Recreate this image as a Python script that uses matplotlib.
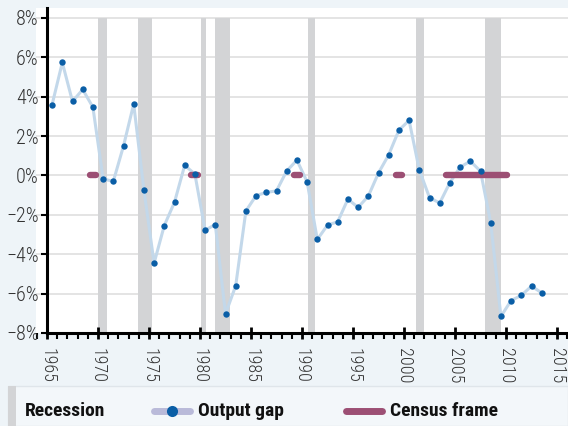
import matplotlib
matplotlib.use("Agg")
import matplotlib.pyplot as plt
from matplotlib.patches import Rectangle
from matplotlib.lines import Line2D
from matplotlib.ticker import MultipleLocator, FuncFormatter

plt.rcParams['font.family'] = ['Roboto Condensed', 'DejaVu Sans']
plt.rcParams['font.stretch'] = 'condensed'

# ---- data ----
years = list(range(1965, 2014))
output_gap = [3.6, 5.74, 3.76, 4.37, 3.47, -0.17, -0.3, 1.5, 3.63, -0.73,
              -4.45, -2.54, -1.36, 0.52, 0.07, -2.78, -2.49, -7.03, -5.6, -1.8,
              -1.02, -0.86, -0.78, 0.23, 0.78, -0.32, -3.25, -2.52, -2.35, -1.2,
              -1.62, -1.05, 0.13, 1.05, 2.3, 2.8, 0.28, -1.12, -1.4, -0.36,
              0.42, 0.73, 0.22, -2.39, -7.16, -6.35, -6.09, -5.62, -5.96]
recession_start = [1969.96, 1973.9, 1980.07, 1981.5, 1990.55, 2001.2, 2007.95]
recession_end = [1970.9, 1975.3, 1980.6, 1982.9, 1991.25, 2001.96, 2009.5]
census_start = [1969.2, 1979.15, 1989.2, 1999.2, 2004.15]
census_end = [1969.8, 1979.8, 1989.8, 1999.8, 2010.1]
yticks = [-8, -6, -4, -2, 0, 2, 4, 6, 8]
xticks = [1965, 1970, 1975, 1980, 1985, 1990, 1995, 2000, 2005, 2010, 2015]

BG = '#eef4f8'
LINE = '#c3d8ea'
MARK = '#0a5ea6'
CENSUS = '#9c4f74'
REC = '#d3d4d6'
GRID = '#dcdcdc'

fig = plt.figure(figsize=(5.68, 4.26), dpi=100)
fig.patch.set_facecolor(BG)

W, H = 568, 426
ax = fig.add_axes([36 / W, 1 - 333 / H, 1 - 36 / W, (333 - 8) / H])
ax.set_facecolor('white')

px_per_year = (557 - 47) / 50.0
x0 = 1965 - (47 - 36) / px_per_year
x1 = 1965 + (568 - 47) / px_per_year
ax.set_xlim(x0, x1)
px_per_pct = (333 - 18) / 16.0
ytop = 8 + 10 / px_per_pct
ax.set_ylim(-8, ytop)

# recessions
for s, e in zip(recession_start, recession_end):
    ax.fill_between([s, e], [-8, -8], [8, 8], color=REC, lw=0, zorder=1)

# grid
for y in yticks[1:]:
    ax.axhline(y, color=GRID, lw=1.1, zorder=0.5)

# output gap
xs = [y + 0.5 for y in years]
ax.plot(xs, output_gap, color=LINE, lw=2.2, zorder=3, solid_joinstyle='round')
ax.plot(xs, output_gap, ls='none', marker='o', ms=4.6, color=MARK,
        markeredgewidth=0, zorder=5)

# census frame
for s, e in zip(census_start, census_end):
    ax.plot([s, e], [0, 0], color=CENSUS, lw=4.6, solid_capstyle='round', zorder=4)

# spines
for sp in ['top', 'right']:
    ax.spines[sp].set_visible(False)
ax.spines['left'].set_position(('data', 1965))
ax.spines['left'].set_bounds(-8, ytop)
ax.spines['left'].set_linewidth(2.2)
ax.spines['bottom'].set_linewidth(2.2)
ax.spines['bottom'].set_bounds(1965, x1)

ax.set_yticks(yticks)
ax.yaxis.set_major_formatter(FuncFormatter(lambda v, p: ('\u2212' if v < 0 else '') + f"{abs(int(v))}%"))
ax.tick_params(axis='y', length=4, width=1.5, direction='out', pad=2,
               labelsize=14.5, labelcolor='#333333')
ax.set_xticks(xticks)
ax.xaxis.set_minor_locator(MultipleLocator(1))
ax.tick_params(axis='x', which='major', length=8, width=2, direction='inout', pad=7,
               labelsize=13, labelrotation=270, labelcolor='#333333')
ax.tick_params(axis='x', which='minor', length=4, width=1.5, direction='out')
for lab in ax.get_xticklabels() + ax.get_yticklabels():
    lab.set_fontweight('light')
for lab in ax.get_xticklabels():
    lab.set_verticalalignment('top')
    lab.set_horizontalalignment('center')

# legend box
fig.patches.append(Rectangle((8 / W, 0), 1 - 8 / W, (426 - 386) / H, transform=fig.transFigure,
                             facecolor='#f3f7fa', edgecolor='#dfe5ea', lw=1, zorder=0))
fig.patches.append(Rectangle((8 / W, 0), 8 / W, (426 - 386) / H, transform=fig.transFigure,
                             facecolor=REC, edgecolor='none', zorder=1))
ly = 1 - 411 / H
fs = 14
fig.text(25 / W, ly, 'Recession', fontsize=fs, fontweight='bold', va='center', ha='left',
         color='#111111')
fig.add_artist(Line2D([154 / W, 190 / W], [ly, ly], transform=fig.transFigure,
                      color='#b9bad9', lw=5, solid_capstyle='round'))
fig.add_artist(Line2D([171.7 / W], [ly], transform=fig.transFigure, marker='o', ms=8,
                      color=MARK, markeredgewidth=0))
fig.text(198 / W, ly, 'Output gap', fontsize=fs, fontweight='bold', va='center', ha='left',
         color='#111111')
fig.add_artist(Line2D([346 / W, 382 / W], [ly, ly], transform=fig.transFigure,
                      color=CENSUS, lw=5, solid_capstyle='round'))
fig.text(390 / W, ly, 'Census frame', fontsize=fs, fontweight='bold', va='center', ha='left',
         color='#111111')

fig.savefig('out.png', dpi=100, facecolor=BG)
